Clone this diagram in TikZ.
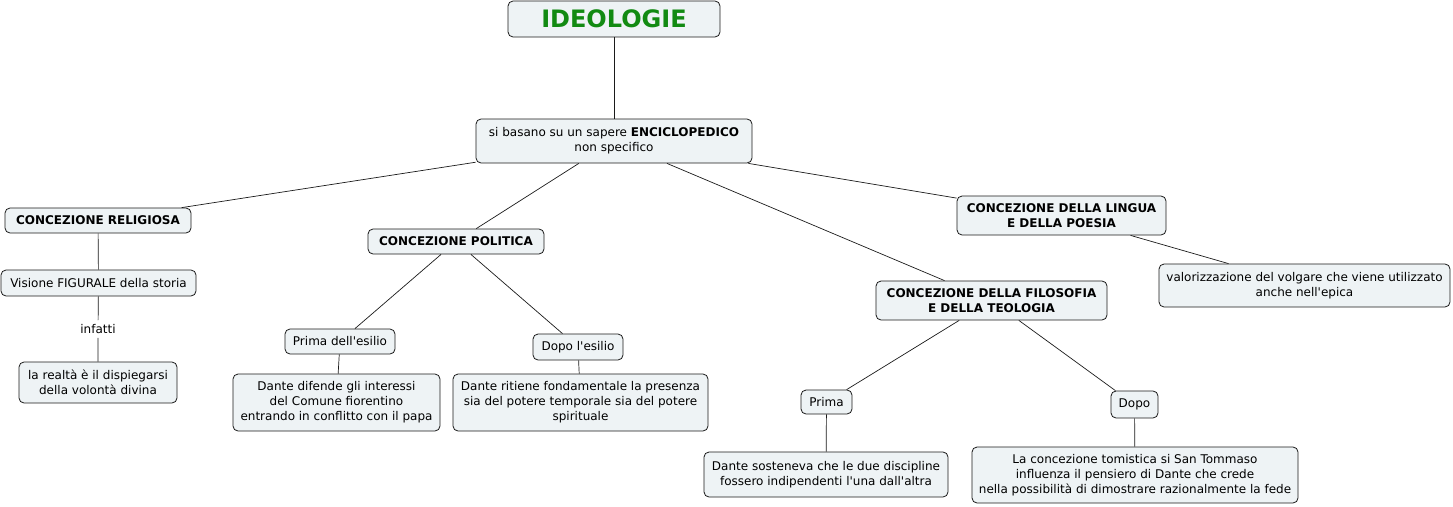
\documentclass[tikz,border=0pt]{standalone}
\usepackage{fontspec}
\setmainfont[Ligatures=TeXOff]{DejaVu Sans}
\usetikzlibrary{positioning}
\definecolor{boxfill}{HTML}{EEF3F5}
\definecolor{boxline}{HTML}{1A1A1A}
\definecolor{titlegreen}{HTML}{128A12}
\begin{document}
\begin{tikzpicture}[x=1pt,y=-1pt,
  cbox/.style={draw=boxline,fill=boxfill,line width=0.8pt,rounded corners=5pt,align=center,inner sep=2pt,font=\fontsize{12}{15}\selectfont},
  hbox/.style={cbox,font=\fontsize{12}{15}\selectfont\bfseries},
  link/.style={draw=boxline,line width=0.7pt}]
  \useasboundingbox (0,0) rectangle (1453,506);
  % top
  \node[cbox,minimum width=212pt,minimum height=36pt,font=\fontsize{24}{26}\selectfont\bfseries,text=titlegreen] (ideo) at (614,19) {IDEOLOGIE};
  \node[cbox,minimum width=276pt,minimum height=44pt] (enc) at (614,141) {si basano su un sapere \textbf{ENCICLOPEDICO}\\non specifico};
  % religiosa
  \node[hbox,minimum width=186pt,minimum height=25pt] (rel) at (98,220.5) {CONCEZIONE RELIGIOSA};
  \node[cbox,minimum width=195pt,minimum height=26pt] (fig) at (98.5,283) {Visione FIGURALE della storia};
  \node[font=\fontsize{12}{15}\selectfont,inner sep=4pt] (inf) at (98,329) {infatti};
  \node[cbox,minimum width=158pt,minimum height=41pt] (real) at (98,382.5) {la realtà è il dispiegarsi\\della volontà divina};
  % politica
  \node[hbox,minimum width=176pt,minimum height=25pt] (pol) at (456,241.5) {CONCEZIONE POLITICA};
  \node[cbox,minimum width=110pt,minimum height=25pt] (pes) at (340,341.5) {Prima dell'esilio};
  \node[cbox,minimum width=90pt,minimum height=26pt] (des) at (578,347) {Dopo l'esilio};
  \node[cbox,minimum width=207pt,minimum height=57pt] (dif) at (336.5,402.5) {Dante difende gli interessi\\del Comune fiorentino\\entrando in conflitto con il papa};
  \node[cbox,minimum width=255pt,minimum height=57pt] (rit) at (580.5,402.5) {Dante ritiene fondamentale la presenza\\sia del potere temporale sia del potere\\spirituale};
  % filosofia
  \node[hbox,minimum width=231pt,minimum height=39pt] (fil) at (991.5,300.5) {CONCEZIONE DELLA FILOSOFIA\\E DELLA TEOLOGIA};
  \node[cbox,minimum width=51pt,minimum height=24pt] (pri) at (826.5,402) {Prima};
  \node[cbox,minimum width=47pt,minimum height=27pt] (dop) at (1134.5,404.5) {Dopo};
  \node[cbox,minimum width=244pt,minimum height=45pt] (sos) at (826,474.5) {Dante sosteneva che le due discipline\\fossero indipendenti l'una dall'altra};
  \node[cbox,minimum width=326pt,minimum height=56pt] (tom) at (1135,475) {La concezione tomistica si San Tommaso\\influenza il pensiero di Dante che crede\\nella possibilità di dimostrare razionalmente la fede};
  % lingua
  \node[hbox,minimum width=209pt,minimum height=39pt] (lin) at (1061.5,215.5) {CONCEZIONE DELLA LINGUA\\E DELLA POESIA};
  \node[cbox,minimum width=291pt,minimum height=43pt] (vol) at (1304.5,285.5) {valorizzazione del volgare che viene utilizzato\\anche nell'epica};
  % links
  \draw[link] (ideo) -- (enc);
  \draw[link] (enc) -- (rel);
  \draw[link] (enc) -- (pol);
  \draw[link] (enc) -- (fil);
  \draw[link] (enc) -- (lin);
  \draw[link] (rel) -- (fig);
  \draw[link] (fig) -- (inf) -- (real);
  \draw[link] (pol) -- (pes);
  \draw[link] (pol) -- (des);
  \draw[link] (pes) -- (dif);
  \draw[link] (des) -- (rit);
  \draw[link] (fil) -- (pri);
  \draw[link] (fil) -- (dop);
  \draw[link] (pri) -- (sos);
  \draw[link] (dop) -- (tom);
  \draw[link] (lin) -- (vol);
\end{tikzpicture}
\end{document}
